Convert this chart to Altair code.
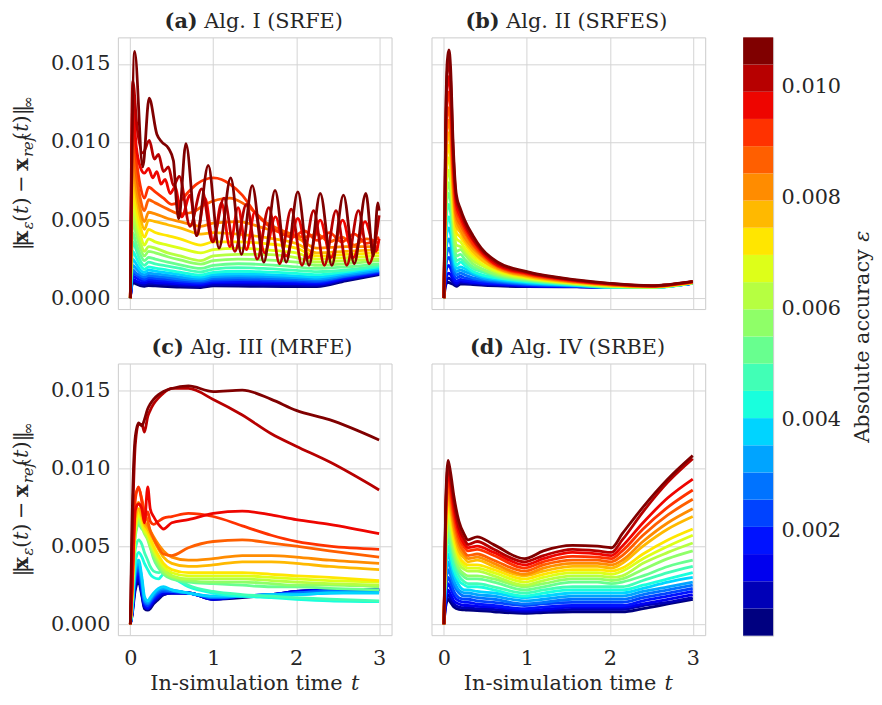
import altair as alt
import numpy as np
import pandas as pd

# ------------------------------------------------------------------ axes / bands
N_BANDS = 22
CB_MIN, CB_MAX = 0.0001, 0.01088
CB_TICKS = [0.002, 0.004, 0.006, 0.008, 0.010]
T_TICKS = [0, 1, 2, 3]
V_TICKS = [0.0, 0.005, 0.010, 0.015]
T_DOMAIN = [-0.15, 3.15]
V_DOMAIN = [-0.0007, 0.0167]
TITLES = [("(a)", "Alg. I (SRFE)"), ("(b)", "Alg. II (SRFES)"),
          ("(c)", "Alg. III (MRFE)"), ("(d)", "Alg. IV (SRBE)")]

# ------------------------------------------------------------------ panel (a) SRFE
A_T = [0.0, 0.03, 0.07, 0.12, 0.17, 0.22, 0.3, 0.45, 0.6, 0.85, 1.0, 1.3, 1.6, 2.0, 2.25, 2.6, 3.0]
A_V = [
    [0, 0.0010, 0.0009, 0.0008, 0.00075, 0.0008, 0.00078, 0.00074, 0.0007, 0.00068, 0.00078, 0.00077, 0.00075, 0.00074, 0.00074, 0.0011, 0.0015],
    [0, 0.0011, 0.001, 0.0009, 0.00086, 0.00092, 0.0009, 0.00086, 0.0008, 0.00076, 0.00087, 0.00087, 0.00085, 0.00083, 0.00082, 0.00118, 0.00155],
    [0, 0.0012, 0.0011, 0.001, 0.00097, 0.00104, 0.001, 0.00096, 0.0009, 0.00084, 0.00097, 0.00098, 0.00096, 0.00093, 0.0009, 0.00125, 0.0016],
    [0, 0.0014, 0.0013, 0.00115, 0.0011, 0.00118, 0.00114, 0.00108, 0.001, 0.00093, 0.00106, 0.00108, 0.00106, 0.00102, 0.00098, 0.0013, 0.00165],
    [0, 0.0016, 0.0015, 0.0013, 0.0012, 0.0013, 0.00126, 0.00119, 0.0011, 0.00102, 0.00115, 0.00118, 0.00116, 0.00111, 0.00106, 0.00137, 0.0017],
    [0, 0.0018, 0.0016, 0.00145, 0.00135, 0.00145, 0.0014, 0.00132, 0.00122, 0.00112, 0.00126, 0.0013, 0.00127, 0.0012, 0.00115, 0.00143, 0.00175],
    [0, 0.0021, 0.0019, 0.0016, 0.0015, 0.0016, 0.00155, 0.00146, 0.00135, 0.00122, 0.00137, 0.00142, 0.00139, 0.00131, 0.00125, 0.0015, 0.0018],
    [0, 0.0025, 0.0022, 0.0018, 0.00165, 0.0018, 0.00173, 0.00162, 0.0015, 0.00134, 0.0015, 0.00156, 0.00152, 0.00143, 0.00135, 0.0016, 0.0019],
    [0, 0.0030, 0.0026, 0.0021, 0.00185, 0.0020, 0.00192, 0.0018, 0.00166, 0.00148, 0.00165, 0.00172, 0.00168, 0.00158, 0.0015, 0.0017, 0.0020],
    [0, 0.0036, 0.0031, 0.0024, 0.0021, 0.0023, 0.0022, 0.00205, 0.0019, 0.00168, 0.00186, 0.00195, 0.0019, 0.00178, 0.0017, 0.0018, 0.0021],
    [0, 0.0042, 0.0035, 0.0028, 0.0024, 0.0026, 0.0025, 0.0023, 0.00213, 0.0019, 0.0021, 0.0022, 0.00215, 0.002, 0.0019, 0.002, 0.0022],
    [0, 0.0049, 0.0041, 0.0032, 0.0027, 0.0030, 0.0029, 0.00265, 0.00245, 0.00218, 0.0024, 0.0025, 0.00245, 0.0023, 0.0021, 0.0022, 0.0024],
    [0, 0.0056, 0.0046, 0.0036, 0.0030, 0.0033, 0.0032, 0.0029, 0.0027, 0.0024, 0.0027, 0.0028, 0.0028, 0.0026, 0.0023, 0.0024, 0.0025],
    [0, 0.0064, 0.0052, 0.0041, 0.0034, 0.0038, 0.0036, 0.0034, 0.0032, 0.0029, 0.0031, 0.0032, 0.0031, 0.0029, 0.0025, 0.0026, 0.0027],
    [0, 0.0072, 0.0059, 0.0046, 0.0039, 0.0044, 0.0042, 0.0040, 0.0038, 0.0034, 0.0036, 0.0036, 0.0035, 0.0032, 0.0027, 0.0028, 0.0029],
    [0, 0.0080, 0.0066, 0.0052, 0.0044, 0.0050, 0.0049, 0.0047, 0.0045, 0.0041, 0.0042, 0.0041, 0.0039, 0.0035, 0.0029, 0.0030, 0.0031],
    [0, 0.0088, 0.0072, 0.0057, 0.0049, 0.0055, 0.0054, 0.0051, 0.0049, 0.0046, 0.0048, 0.0049, 0.0045, 0.0039, 0.0032, 0.0033, 0.0033],
]
A_T17 = [0, 0.03, 0.07, 0.12, 0.17, 0.22, 0.3, 0.45, 0.6, 0.75, 0.9, 1.05, 1.2, 1.35, 1.5, 1.65, 1.8, 1.95, 2.1, 2.25, 2.4, 2.55, 2.7, 2.85, 3.0]
A_V17 = [0, 0.0098, 0.0080, 0.0064, 0.0056, 0.0063, 0.0061, 0.0057, 0.0054, 0.0055, 0.0060, 0.0063, 0.0064, 0.0061, 0.0055, 0.0048, 0.0044, 0.0041, 0.0039, 0.0041, 0.0036, 0.0039, 0.0034, 0.0038, 0.0035]
A_T18 = [0, 0.03, 0.07, 0.12, 0.17, 0.22, 0.3, 0.4, 0.5, 0.6, 0.7, 0.8, 0.9, 1.0, 1.1, 1.2, 1.35, 1.5, 1.65, 1.8, 1.95, 2.1, 2.25, 2.4, 2.55, 2.7, 2.85, 3.0]
A_V18 = [0, 0.0110, 0.0090, 0.0072, 0.0064, 0.0071, 0.0068, 0.0064, 0.0060, 0.0062, 0.0068, 0.0073, 0.0076, 0.0077, 0.0076, 0.0073, 0.0066, 0.0055, 0.0047, 0.0042, 0.0039, 0.0043, 0.0037, 0.0042, 0.0036, 0.0041, 0.0035, 0.0039]
A_T19 = [0, 0.03, 0.07, 0.12, 0.17, 0.22, 0.27, 0.32, 0.37, 0.42, 0.48, 0.54, 0.62, 0.72, 0.8, 0.9, 1.0, 1.1, 1.2, 1.3, 1.4, 1.5, 1.62, 1.75, 1.88, 2.02, 2.15, 2.29, 2.42, 2.56, 2.69, 2.83, 2.96, 3.0]
A_V19 = [0, 0.0124, 0.0098, 0.0084, 0.0080, 0.0083, 0.0077, 0.0081, 0.0073, 0.0076, 0.0067, 0.0071, 0.0052, 0.0066, 0.0040, 0.0064, 0.0036, 0.0061, 0.0033, 0.0058, 0.0031, 0.0055, 0.0029, 0.0052, 0.0027, 0.0051, 0.0026, 0.0050, 0.0026, 0.0050, 0.0026, 0.0049, 0.0030, 0.0038]
A_T20 = [0, 0.03, 0.08, 0.15, 0.23, 0.29, 0.34, 0.40, 0.46, 0.52, 0.59, 0.72, 0.86, 0.99, 1.13, 1.26, 1.40, 1.53, 1.67, 1.80, 1.94, 2.07, 2.21, 2.34, 2.48, 2.61, 2.75, 2.88, 3.0]
A_V20 = [0, 0.0139, 0.0110, 0.0093, 0.0101, 0.0089, 0.0092, 0.0081, 0.0084, 0.0072, 0.0078, 0.0046, 0.0070, 0.0036, 0.0064, 0.0030, 0.0060, 0.0025, 0.0058, 0.0022, 0.0057, 0.0021, 0.0056, 0.0021, 0.0056, 0.0021, 0.0056, 0.0022, 0.0053]
A_T21 = [0, 0.052, 0.15, 0.227, 0.32, 0.38, 0.46, 0.52, 0.56, 0.585, 0.67, 0.80, 0.94, 1.07, 1.21, 1.34, 1.47, 1.61, 1.745, 1.88, 2.02, 2.155, 2.29, 2.43, 2.57, 2.70, 2.84, 2.93, 2.985, 3.0]
A_V21 = [0, 0.0158, 0.0084, 0.0128, 0.0105, 0.0100, 0.0096, 0.0088, 0.0059, 0.0051, 0.0099, 0.0040, 0.0085, 0.0032, 0.0077, 0.0028, 0.0072, 0.0023, 0.0069, 0.0023, 0.0068, 0.0021, 0.0067, 0.0021, 0.0066, 0.0022, 0.0067, 0.0027, 0.0061, 0.0056]

# ------------------------------------------------------------------ panel (b) SRFES
B_T = [0, 0.02, 0.04, 0.06, 0.08, 0.11, 0.15, 0.2, 0.25, 0.35, 0.45, 0.65, 1.0, 1.6, 2.0, 2.5, 3.0]
B_V = [
    [0, 0.0008, 0.0010, 0.0010, 0.00095, 0.00088, 0.00075, 0.0009, 0.0009, 0.00087, 0.00083, 0.00078, 0.00074, 0.00072, 0.00071, 0.00074, 0.00094],
    [0, 0.0010, 0.0012, 0.0013, 0.0012, 0.0010, 0.00085, 0.0010, 0.00097, 0.00093, 0.00088, 0.00083, 0.00076, 0.00073, 0.00071, 0.00073, 0.00094],
    [0, 0.0012, 0.0015, 0.0016, 0.0015, 0.0012, 0.00095, 0.0011, 0.00105, 0.0010, 0.00094, 0.00088, 0.00079, 0.00074, 0.0007, 0.00072, 0.00095],
    [0, 0.0015, 0.0020, 0.0021, 0.0019, 0.0014, 0.0011, 0.0012, 0.00115, 0.00108, 0.0010, 0.00093, 0.00082, 0.00075, 0.0007, 0.00071, 0.00095],
    [0, 0.0018, 0.0025, 0.0026, 0.0024, 0.0017, 0.0013, 0.0014, 0.0013, 0.0012, 0.0011, 0.0010, 0.00086, 0.00076, 0.00069, 0.0007, 0.00095],
    [0, 0.0022, 0.0030, 0.0032, 0.0029, 0.0020, 0.0015, 0.0016, 0.0015, 0.0013, 0.0012, 0.00106, 0.0009, 0.00078, 0.00069, 0.00069, 0.00096],
    [0, 0.0027, 0.0036, 0.0038, 0.0035, 0.0024, 0.0017, 0.0018, 0.0017, 0.0015, 0.0013, 0.00113, 0.00095, 0.0008, 0.00069, 0.00068, 0.00096],
    [0, 0.0031, 0.0043, 0.0045, 0.0041, 0.0028, 0.0019, 0.0020, 0.0019, 0.0016, 0.0014, 0.0012, 0.0010, 0.00082, 0.0007, 0.00067, 0.00096],
    [0, 0.0036, 0.0049, 0.0052, 0.0048, 0.0033, 0.0021, 0.0023, 0.0021, 0.0017, 0.0015, 0.00128, 0.00105, 0.00084, 0.0007, 0.00067, 0.00097],
    [0, 0.0042, 0.0057, 0.0060, 0.0055, 0.0038, 0.0024, 0.0025, 0.0023, 0.0019, 0.0017, 0.00135, 0.0011, 0.00086, 0.00071, 0.00068, 0.00097],
    [0, 0.0047, 0.0064, 0.0067, 0.0062, 0.0042, 0.0027, 0.0028, 0.0025, 0.0020, 0.0018, 0.00143, 0.00115, 0.00088, 0.00073, 0.00069, 0.00098],
    [0, 0.0052, 0.0070, 0.0074, 0.0068, 0.0047, 0.0030, 0.0031, 0.0028, 0.0022, 0.0019, 0.0015, 0.0012, 0.0009, 0.00075, 0.0007, 0.00098],
    [0, 0.0057, 0.0078, 0.0082, 0.0075, 0.0052, 0.0034, 0.0033, 0.0030, 0.0024, 0.0021, 0.0016, 0.00125, 0.00092, 0.00077, 0.00071, 0.00099],
    [0, 0.0063, 0.0086, 0.0090, 0.0083, 0.0057, 0.0038, 0.0036, 0.0032, 0.0026, 0.0022, 0.0017, 0.0013, 0.00094, 0.00079, 0.00072, 0.00099],
    [0, 0.0068, 0.0093, 0.0098, 0.0090, 0.0062, 0.0042, 0.0039, 0.0035, 0.0028, 0.0024, 0.0018, 0.00135, 0.00097, 0.00081, 0.00073, 0.0010],
    [0, 0.0074, 0.0101, 0.0106, 0.0098, 0.0067, 0.0046, 0.0042, 0.0037, 0.0030, 0.0025, 0.00186, 0.0014, 0.0010, 0.00083, 0.00074, 0.00101],
    [0, 0.0079, 0.0109, 0.0114, 0.0105, 0.0072, 0.0050, 0.0044, 0.0039, 0.0032, 0.0027, 0.00193, 0.00145, 0.00102, 0.00085, 0.00075, 0.00102],
    [0, 0.0085, 0.0117, 0.0122, 0.0113, 0.0077, 0.0053, 0.0047, 0.0042, 0.0034, 0.0028, 0.0020, 0.0015, 0.00105, 0.00087, 0.00076, 0.00103],
    [0, 0.0092, 0.0126, 0.0132, 0.0122, 0.0083, 0.0057, 0.0050, 0.0044, 0.0035, 0.0029, 0.00205, 0.00155, 0.00108, 0.00089, 0.00077, 0.00104],
    [0, 0.0098, 0.0136, 0.0142, 0.0131, 0.0089, 0.0060, 0.0052, 0.0046, 0.0037, 0.0030, 0.0021, 0.0016, 0.00111, 0.00091, 0.00078, 0.00105],
    [0, 0.0105, 0.0145, 0.0152, 0.0140, 0.0095, 0.0063, 0.0055, 0.0048, 0.0038, 0.0031, 0.0022, 0.00165, 0.00114, 0.00093, 0.00079, 0.00106],
    [0, 0.0110, 0.0152, 0.0159, 0.0148, 0.0100, 0.0066, 0.0057, 0.0050, 0.0040, 0.0032, 0.0023, 0.0017, 0.00117, 0.00095, 0.0008, 0.00107],
]

# ------------------------------------------------------------------ panel (c) MRFE
C_T = [0, 0.02, 0.06, 0.1, 0.14, 0.17, 0.21, 0.24, 0.28, 0.34, 0.4, 0.5, 0.7, 1.0, 1.35, 1.7, 2.0, 2.4, 3.0]
C_V = [
    [0, 0.0005, 0.0022, 0.0027, 0.0018, 0.0010, 0.0009, 0.0010, 0.0013, 0.0016, 0.0019, 0.0020, 0.0020, 0.0016, 0.0017, 0.0019, 0.0021, 0.0022, 0.0022],
    [0, 0.0006, 0.0024, 0.0029, 0.0019, 0.0011, 0.0010, 0.0011, 0.0014, 0.0017, 0.0019, 0.0020, 0.0020, 0.0016, 0.0018, 0.0019, 0.0021, 0.0022, 0.0022],
    [0, 0.0006, 0.0026, 0.0031, 0.0020, 0.0012, 0.0010, 0.0012, 0.0015, 0.0018, 0.0020, 0.0020, 0.0020, 0.0016, 0.0018, 0.0019, 0.0021, 0.0022, 0.0022],
    [0, 0.0007, 0.0028, 0.0033, 0.0022, 0.0013, 0.0011, 0.0013, 0.0016, 0.0019, 0.0021, 0.0021, 0.0020, 0.0017, 0.0018, 0.0019, 0.0020, 0.0022, 0.0022],
    [0, 0.0007, 0.0030, 0.0035, 0.0024, 0.0014, 0.0012, 0.0014, 0.0017, 0.0020, 0.0021, 0.0021, 0.0020, 0.0017, 0.0018, 0.0019, 0.0020, 0.0021, 0.0022],
    [0, 0.0008, 0.0032, 0.0037, 0.0026, 0.0015, 0.0013, 0.0015, 0.0018, 0.0021, 0.0022, 0.0021, 0.0020, 0.0017, 0.0018, 0.0019, 0.0020, 0.0021, 0.0021],
    [0, 0.0008, 0.0034, 0.0039, 0.0028, 0.0016, 0.0014, 0.0016, 0.0019, 0.0022, 0.0023, 0.0022, 0.0020, 0.0018, 0.0018, 0.0019, 0.0019, 0.0020, 0.0021],
    [0, 0.0009, 0.0036, 0.0041, 0.0030, 0.0018, 0.0015, 0.0017, 0.0020, 0.0023, 0.0024, 0.0022, 0.0020, 0.0018, 0.0018, 0.0019, 0.0019, 0.0020, 0.0020],
    [0, 0.0010, 0.0040, 0.0046, 0.0043, 0.0039, 0.0035, 0.0032, 0.0030, 0.0029, 0.0032, 0.0030, 0.0024, 0.0020, 0.0018, 0.0017, 0.0016, 0.0015, 0.00145],
    [0, 0.0012, 0.0048, 0.0054, 0.0051, 0.0046, 0.0041, 0.0037, 0.0034, 0.0033, 0.0035, 0.0031, 0.0025, 0.0021, 0.0019, 0.0018, 0.0017, 0.0016, 0.0015],
    [0, 0.0015, 0.0056, 0.0064, 0.0061, 0.0060, 0.0057, 0.0050, 0.0042, 0.0036, 0.0032, 0.0029, 0.0027, 0.0026, 0.0025, 0.0024, 0.0024, 0.0023, 0.0022],
    [0, 0.0016, 0.0058, 0.0066, 0.0062, 0.0058, 0.0054, 0.0049, 0.0044, 0.0038, 0.0033, 0.0030, 0.0028, 0.0027, 0.0027, 0.0026, 0.0025, 0.0025, 0.0024],
    [0, 0.0017, 0.0060, 0.0068, 0.0063, 0.0059, 0.0055, 0.0051, 0.0046, 0.0040, 0.0035, 0.0031, 0.0029, 0.0029, 0.0029, 0.0028, 0.0027, 0.0026, 0.0025],
    [0, 0.0018, 0.0062, 0.0070, 0.0065, 0.0060, 0.0057, 0.0053, 0.0048, 0.0042, 0.0037, 0.0033, 0.0031, 0.0031, 0.0031, 0.0030, 0.0029, 0.0028, 0.0027],
    [0, 0.0019, 0.0064, 0.0072, 0.0067, 0.0062, 0.0059, 0.0055, 0.0050, 0.0044, 0.0039, 0.0035, 0.0033, 0.0033, 0.0033, 0.0032, 0.0031, 0.0030, 0.0028],
    [0, 0.0020, 0.0068, 0.0074, 0.0069, 0.0064, 0.0061, 0.0058, 0.0054, 0.0048, 0.0043, 0.0039, 0.0037, 0.0038, 0.0040, 0.0040, 0.0039, 0.0037, 0.0035],
    [0, 0.0022, 0.0072, 0.0078, 0.0072, 0.0066, 0.0063, 0.0060, 0.0056, 0.0051, 0.0047, 0.0043, 0.0041, 0.0042, 0.0044, 0.0044, 0.0043, 0.0041, 0.0039],
    [0, 0.0025, 0.0082, 0.0087, 0.0080, 0.0072, 0.0066, 0.0060, 0.0055, 0.0049, 0.0045, 0.0044, 0.0049, 0.0053, 0.0054, 0.0052, 0.0050, 0.0047, 0.0043],
    [0, 0.0025, 0.0080, 0.0088, 0.0078, 0.0068, 0.0072, 0.0066, 0.0064, 0.0066, 0.0068, 0.0069, 0.0071, 0.0069, 0.0063, 0.0057, 0.0053, 0.0050, 0.0048],
    [0, 0.0020, 0.0073, 0.0077, 0.0074, 0.0065, 0.0088, 0.0074, 0.0069, 0.0064, 0.0061, 0.0065, 0.0067, 0.0071, 0.00725, 0.0070, 0.0067, 0.0064, 0.0058],
    [0, 0.0050, 0.0115, 0.0128, 0.0128, 0.0123, 0.0133, 0.0137, 0.0141, 0.0145, 0.0148, 0.0151, 0.0151, 0.0144, 0.0134, 0.0122, 0.0114, 0.0104, 0.0086],
    [0, 0.0063, 0.0120, 0.0129, 0.0127, 0.0131, 0.0138, 0.0141, 0.0144, 0.0147, 0.0149, 0.0151, 0.01526, 0.0149, 0.0150, 0.0144, 0.0137, 0.0131, 0.0118],
]

# ------------------------------------------------------------------ panel (d) SRBE
D_T = [0, 0.02, 0.05, 0.08, 0.12, 0.18, 0.25, 0.29, 0.4, 0.6, 0.97, 1.2, 1.55, 1.85, 2.02, 2.15, 2.4, 2.7, 3.0]
D_V = [
    [0, 0.0011, 0.0016, 0.0014, 0.0011, 0.00095, 0.00092, 0.0009, 0.00088, 0.0008, 0.0007, 0.00075, 0.0008, 0.0008, 0.0008, 0.0008, 0.0010, 0.0013, 0.0016],
    [0, 0.0013, 0.0019, 0.0016, 0.0013, 0.0011, 0.00105, 0.00105, 0.0010, 0.00095, 0.0008, 0.00085, 0.00095, 0.00095, 0.00095, 0.00095, 0.0012, 0.0014, 0.0017],
    [0, 0.0015, 0.0022, 0.0019, 0.0015, 0.0013, 0.0012, 0.0012, 0.00115, 0.0011, 0.0009, 0.00095, 0.0011, 0.0011, 0.0011, 0.0011, 0.0013, 0.0016, 0.0019],
    [0, 0.0018, 0.0026, 0.0023, 0.0018, 0.0015, 0.0014, 0.0014, 0.0013, 0.0012, 0.0010, 0.0011, 0.0012, 0.0012, 0.0012, 0.0012, 0.0015, 0.0018, 0.0021],
    [0, 0.0021, 0.0030, 0.0027, 0.0021, 0.0017, 0.0016, 0.0016, 0.0015, 0.0014, 0.0012, 0.0013, 0.0014, 0.0014, 0.0014, 0.0014, 0.0017, 0.0020, 0.0023],
    [0, 0.0025, 0.0035, 0.0031, 0.0025, 0.0020, 0.0018, 0.0018, 0.0017, 0.0016, 0.0013, 0.0014, 0.0016, 0.0016, 0.0016, 0.0016, 0.0019, 0.0022, 0.0025],
    [0, 0.0028, 0.0040, 0.0035, 0.0028, 0.0022, 0.0020, 0.0020, 0.0019, 0.0018, 0.0015, 0.0016, 0.0018, 0.0018, 0.0018, 0.0018, 0.0021, 0.0024, 0.0027],
    [0, 0.0032, 0.0045, 0.0040, 0.0032, 0.0025, 0.0022, 0.0022, 0.0021, 0.0020, 0.0017, 0.0018, 0.0020, 0.0020, 0.0020, 0.0020, 0.0023, 0.0027, 0.0030],
    [0, 0.0035, 0.0050, 0.0044, 0.0035, 0.0028, 0.0025, 0.0024, 0.0024, 0.0022, 0.0018, 0.0020, 0.0022, 0.0022, 0.0022, 0.0022, 0.0025, 0.0029, 0.0033],
    [0, 0.0039, 0.0055, 0.0049, 0.0039, 0.0031, 0.0027, 0.0026, 0.0026, 0.0024, 0.0020, 0.0022, 0.0024, 0.0024, 0.0024, 0.0024, 0.0028, 0.0033, 0.0037],
    [0, 0.0042, 0.0060, 0.0053, 0.0043, 0.0034, 0.0030, 0.0029, 0.0029, 0.0027, 0.0022, 0.0024, 0.0027, 0.0027, 0.0026, 0.0027, 0.0031, 0.0037, 0.0041],
    [0, 0.0045, 0.0064, 0.0057, 0.0046, 0.0036, 0.0032, 0.0031, 0.0031, 0.0029, 0.0024, 0.0026, 0.0029, 0.0029, 0.0028, 0.0029, 0.0035, 0.0042, 0.0047],
    [0, 0.0048, 0.0069, 0.0061, 0.0050, 0.0039, 0.0035, 0.0034, 0.0034, 0.0031, 0.0025, 0.0028, 0.0031, 0.0031, 0.0030, 0.0031, 0.0039, 0.0046, 0.0052],
    [0, 0.0051, 0.0073, 0.0065, 0.0053, 0.0042, 0.0037, 0.0036, 0.0036, 0.0033, 0.0027, 0.0030, 0.0033, 0.0033, 0.0032, 0.0034, 0.0042, 0.0050, 0.0057],
    [0, 0.0054, 0.0077, 0.0069, 0.0056, 0.0044, 0.0039, 0.0038, 0.0038, 0.0035, 0.0029, 0.0032, 0.0035, 0.0035, 0.0034, 0.0036, 0.0045, 0.0054, 0.0061],
    [0, 0.0057, 0.0081, 0.0073, 0.0060, 0.0047, 0.0042, 0.0040, 0.0041, 0.0037, 0.0031, 0.0034, 0.0037, 0.0037, 0.0036, 0.0039, 0.0050, 0.0061, 0.0069],
    [0, 0.0060, 0.0085, 0.0077, 0.0063, 0.0050, 0.0044, 0.0042, 0.0043, 0.0039, 0.0032, 0.0036, 0.0039, 0.0039, 0.0038, 0.0041, 0.0053, 0.0065, 0.0074],
    [0, 0.0063, 0.0089, 0.0081, 0.0067, 0.0053, 0.0046, 0.0044, 0.0045, 0.0041, 0.0034, 0.0038, 0.0041, 0.0041, 0.0040, 0.0044, 0.0057, 0.0070, 0.0080],
    [0, 0.0066, 0.0093, 0.0085, 0.0070, 0.0056, 0.0049, 0.0047, 0.0048, 0.0044, 0.0036, 0.0040, 0.00435, 0.0043, 0.0042, 0.0047, 0.0061, 0.0075, 0.0086],
    [0, 0.0069, 0.0097, 0.0089, 0.0074, 0.0059, 0.0051, 0.0049, 0.0050, 0.0046, 0.0038, 0.0042, 0.0046, 0.0045, 0.0044, 0.0050, 0.0065, 0.0081, 0.0093],
    [0, 0.0072, 0.0101, 0.0093, 0.0078, 0.0062, 0.0054, 0.0051, 0.0053, 0.0048, 0.0040, 0.0044, 0.0048, 0.0047, 0.0046, 0.0054, 0.0072, 0.0091, 0.0106],
    [0, 0.0075, 0.0105, 0.0097, 0.0082, 0.0066, 0.0057, 0.0054, 0.0056, 0.0051, 0.0042, 0.0047, 0.00505, 0.0050, 0.0049, 0.0058, 0.0075, 0.0093, 0.0108],
]

# ------------------------------------------------------------------ style
FONT = "DejaVu Serif"
FS = 20.8
FS_SUB = 14.6
TXT = "#262626"
GRID = "#d4d4d4"
FRAME = "#cccccc"
W, H = 274, 272
ROW_GAP = 54
CB_W, CB_H = 30, 2 * H + ROW_GAP + 1
TITLE_Y = -9
XLABEL_Y = H + 55


def jet(x):
    r = np.interp(x, [0, 0.35, 0.66, 0.89, 1], [0, 0, 1, 1, 0.5])
    g = np.interp(x, [0, 0.125, 0.375, 0.64, 0.91, 1], [0, 0, 1, 1, 0, 0])
    b = np.interp(x, [0, 0.11, 0.34, 0.65, 1], [0.5, 1, 1, 0, 0])
    return "#%02x%02x%02x" % (int(round(r * 255)), int(round(g * 255)), int(round(b * 255)))


JET = [jet(k / (N_BANDS - 1)) for k in range(N_BANDS)]


def table(series):
    rows = []
    for k, (ts, vs) in enumerate(series):
        for t, v in zip(ts, vs):
            rows.append({"k": k, "t": t, "v": v})
    return pd.DataFrame(rows)


DF_A = table([(A_T, r) for r in A_V] + [(A_T17, A_V17), (A_T18, A_V18), (A_T19, A_V19),
                                        (A_T20, A_V20), (A_T21, A_V21)])
DF_B = table([(B_T, r) for r in B_V])
DF_C = table([(C_T, r) for r in C_V])
DF_D = table([(D_T, r) for r in D_V])

ONE = pd.DataFrame({"o": [0]})


def txt(s, x, y, size=FS, weight="normal", style="normal", angle=0, align="left", opacity=1):
    return alt.Chart(ONE).mark_text(
        text=s, font=FONT, fontSize=size, fontWeight=weight, fontStyle=style,
        angle=angle, align=align, baseline="alphabetic", color=TXT, opacity=opacity,
    ).encode(x=alt.value(x), y=alt.value(y))


W_REG = {' ': 0.318, '(': 0.390, ')': 0.390, '.': 0.318, 'A': 0.722, 'l': 0.320, 'g': 0.640,
         'I': 0.472, 'V': 0.722, 'S': 0.685, 'R': 0.770, 'F': 0.720, 'E': 0.730, 'M': 0.995, 'B': 0.732}
W_BOLD = {'(': 0.473, ')': 0.473, 'a': 0.676, 'b': 0.712, 'c': 0.593, 'd': 0.712}


def title_layers(bold, rest):
    wb = sum(W_BOLD.get(c, 0.65) for c in bold) * FS
    ws = 0.318 * FS
    wr = sum(W_REG.get(c, 0.62) for c in rest) * FS
    split = W / 2 - (wb + ws + wr) / 2 + wb
    return [txt(bold, split, TITLE_Y, weight="bold", align="right"),
            txt(rest, split + ws, TITLE_Y)]


# y-label pieces: text, size, weight, style, dx (subscript shift), lead, width
YL = [("‖", FS, "normal", "normal", 0, 0, 7.0),
      ("x", FS, "bold", "normal", 0, 0, 14.0),
      ("ε", FS_SUB, "normal", "italic", 5, 0, 7.3),
      ("(", FS, "normal", "normal", 0, 0, 8.1),
      ("t", FS, "normal", "italic", 0, 0, 8.4),
      (")", FS, "normal", "normal", 0, 0, 8.1),
      ("−", FS, "normal", "normal", 0, 4.6, 22.0),
      ("x", FS, "bold", "normal", 0, 0, 14.0),
      ("ref", FS_SUB, "normal", "italic", 5, 0, 17.0),
      ("(", FS, "normal", "normal", 0, 0, 8.1),
      ("t", FS, "normal", "italic", 0, 0, 8.4),
      (")", FS, "normal", "normal", 0, 0, 8.1),
      ("‖", FS, "normal", "normal", 0, 0, 7.0),
      ("∞", FS_SUB, "normal", "normal", 5, 0, 12.2)]


def ylabel_layers():
    total = sum(p[5] + p[6] for p in YL)
    y0 = H / 2 + total / 2
    xb = -90.3
    out, cur = [], 0.0
    for s, size, wt, st, dx, lead, wd in YL:
        cur += lead
        out.append(txt(s, xb + dx, y0 - cur, size=size, weight=wt, style=st, angle=270))
        cur += wd
    return out


def xlabel_layers():
    w_main = 9.343 * FS
    w_sp = 0.318 * FS
    w_t = 0.402 * FS
    start = W / 2 - (w_main + w_sp + w_t) / 2
    return [txt("In-simulation time", start, XLABEL_Y),
            txt("t", start + w_main + w_sp, XLABEL_Y, style="italic")]


def panel(df, idx, show_x, show_y):
    lines = alt.Chart(df).mark_line(interpolate="monotone", strokeWidth=2.8, clip=True).encode(
        x=alt.X("t:Q", scale=alt.Scale(domain=T_DOMAIN, nice=False, zero=False),
                axis=alt.Axis(values=T_TICKS, labels=show_x, title=None, grid=True, ticks=False,
                              domain=False, labelPadding=13, format="d")),
        y=alt.Y("v:Q", scale=alt.Scale(domain=V_DOMAIN, nice=False, zero=False),
                axis=alt.Axis(values=V_TICKS, labels=show_y, title=None, grid=True, ticks=False,
                              domain=False, labelPadding=8, format=".3f")),
        color=alt.Color("k:O", scale=alt.Scale(domain=list(range(N_BANDS)), range=JET), legend=None),
    )
    layers = [lines] + title_layers(*TITLES[idx])
    if show_y:
        layers += ylabel_layers()
    if show_x:
        layers += xlabel_layers()
    return alt.layer(*layers).properties(width=W, height=H)


pa = panel(DF_A, 0, False, True)
pb = panel(DF_B, 1, False, False)
pc = panel(DF_C, 2, True, True)
pdd = panel(DF_D, 3, True, False)

# ------------------------------------------------------------------ colour bar
step = (CB_MAX - CB_MIN) / N_BANDS
CB_DF = pd.DataFrame({"k": list(range(N_BANDS)),
                      "lo": [CB_MIN + i * step for i in range(N_BANDS)],
                      "hi": [CB_MIN + (i + 1) * step for i in range(N_BANDS)]})
cb_rect = alt.Chart(CB_DF).mark_rect().encode(
    x=alt.value(0), x2=alt.value(CB_W),
    y=alt.Y("lo:Q", scale=alt.Scale(domain=[CB_MIN, CB_MAX], nice=False, zero=False),
            axis=alt.Axis(orient="right", values=CB_TICKS, format=".3f", grid=False, ticks=False,
                          domain=False, labelPadding=8, title=None)),
    y2="hi:Q",
    color=alt.Color("k:O", scale=alt.Scale(domain=list(range(N_BANDS)), range=JET), legend=None),
)
cb_w1 = 9.348 * FS
cb_y0 = CB_H / 2 + (cb_w1 + 0.318 * FS + 0.55 * FS) / 2
cbar = alt.layer(
    cb_rect,
    txt("(a)", 0, TITLE_Y, weight="bold", opacity=0),   # invisible: aligns top with panel titles
    txt("Absolute accuracy", 126, cb_y0, angle=270),
    txt("ε", 126, cb_y0 - cb_w1 - 0.318 * FS, style="italic", angle=270),
).properties(width=CB_W, height=CB_H)

top = alt.hconcat(pa, pb, spacing=40, bounds="flush")
bot = alt.hconcat(pc, pdd, spacing=40, bounds="flush")
grid = alt.vconcat(top, bot, spacing=ROW_GAP + TITLE_Y - 18.5)

chart = alt.hconcat(grid, cbar, spacing=36).properties(
    padding={"left": 2, "top": 2, "right": 0, "bottom": 0}
).configure_view(stroke=FRAME, strokeWidth=1).configure_axis(
    labelFont=FONT, labelFontSize=FS, labelColor=TXT, gridColor=GRID, gridWidth=1, tickSize=0
)

chart.save("out.html", embed_options={"renderer": "svg", "actions": False})
